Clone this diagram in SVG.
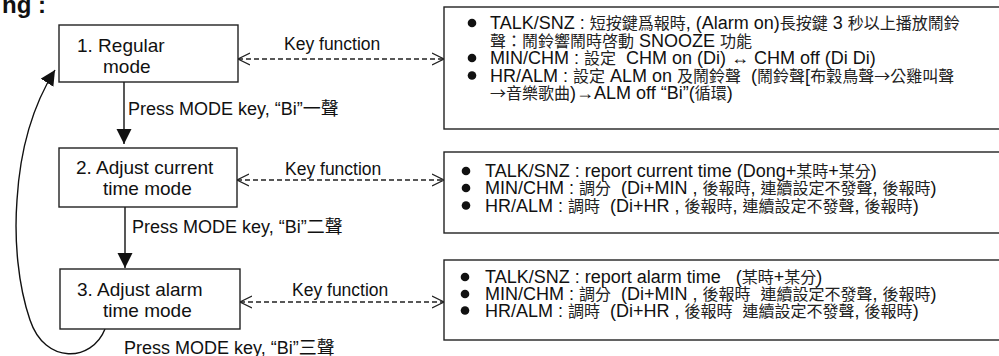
<svg xmlns="http://www.w3.org/2000/svg" width="999" height="356" viewBox="0 0 999 356">
<style>
.bg{fill:#fff}
.box{fill:#fff;stroke:#222;stroke-width:1.4}
.t{font-family:"Liberation Sans","Noto Sans CJK TC",sans-serif;fill:#111;white-space:pre}
.n{font-size:19px}
.l{font-size:18px}
.k{font-size:17.5px}
.r{font-size:18px}
.c{font-family:"Noto Sans CJK TC","Liberation Sans",sans-serif;font-size:16px;fill:#222}
.h{font-family:"Liberation Sans",sans-serif;font-weight:bold;font-size:24px;fill:#111}
.dash{fill:none;stroke:#222;stroke-width:1.3;stroke-dasharray:5 3}
.solid{fill:none;stroke:#111;stroke-width:1.4}
.dot{fill:#111}
</style>
<defs>
<marker id="open" markerWidth="14" markerHeight="14" refX="12" refY="7" orient="auto-start-reverse" markerUnits="userSpaceOnUse">
<path d="M0,1 L12,7 L0,13" fill="none" stroke="#222" stroke-width="1.3"/>
</marker>
<marker id="fill" markerWidth="16" markerHeight="16" refX="15" refY="7.5" orient="auto" markerUnits="userSpaceOnUse">
<path d="M0,0 L15,7.5 L0,15 Z" fill="#111"/>
</marker>
</defs>
<rect class="bg" x="0" y="0" width="999" height="356"/>
<text class="h" x="2" y="13">ng :</text>

<g id="connectors">
<line class="solid" x1="124" y1="82" x2="124" y2="144" marker-end="url(#fill)"/>
<line class="solid" x1="125" y1="207" x2="125" y2="268" marker-end="url(#fill)"/>
<path class="solid" d="M105,329 C92,362 45,365 30,320 C18,285 14,240 17,200 C20,150 33,105 55,70" marker-end="url(#fill)"/>
<line class="dash" x1="238" y1="59" x2="444" y2="59" marker-start="url(#open)" marker-end="url(#open)"/>
<line class="dash" x1="237" y1="180" x2="444" y2="180" marker-start="url(#open)" marker-end="url(#open)"/>
<line class="dash" x1="240" y1="302" x2="444" y2="302" marker-start="url(#open)" marker-end="url(#open)"/>
<text class="t k" x="284" y="50">Key function</text>
<text class="t k" x="285" y="175">Key function</text>
<text class="t k" x="292" y="296">Key function</text>
<text class="t l" x="128" y="115">Press MODE key, “Bi”一聲</text>
<text class="t l" x="132" y="233">Press MODE key, “Bi”二聲</text>
<text class="t l" x="124" y="354">Press MODE key, “Bi”三聲</text>
</g>

<g id="mode1">
<rect class="box" x="59" y="25" width="179" height="57"/>
<text class="t n" x="77" y="52">1. Regular</text>
<text class="t n" x="103" y="73">mode</text>
</g>
<g id="mode2">
<rect class="box" x="59" y="148" width="178" height="59"/>
<text class="t n" x="76" y="174">2. Adjust current</text>
<text class="t n" x="103" y="195">time mode</text>
</g>
<g id="mode3">
<rect class="box" x="60" y="269" width="180" height="60"/>
<text class="t n" x="77" y="296">3. Adjust alarm</text>
<text class="t n" x="103" y="317">time mode</text>
</g>

<g id="keys1">
<rect class="box" x="444" y="7" width="570" height="122"/>
<circle class="dot" cx="472" cy="23" r="4.3"/>
<circle class="dot" cx="472" cy="58" r="4.3"/>
<circle class="dot" cx="472" cy="75.5" r="4.3"/>
<text class="t r" x="490" y="29">TALK/SNZ : <tspan class="c">短按鍵爲報時</tspan>, (Alarm on)<tspan class="c">長按鍵</tspan> 3 <tspan class="c">秒以上播放鬧鈴</tspan></text>
<text class="t r" x="490" y="46.5"><tspan class="c">聲：鬧鈴響鬧時啓動</tspan> SNOOZE <tspan class="c">功能</tspan></text>
<text class="t r" x="490" y="64">MIN/CHM : <tspan class="c">設定</tspan>  CHM on (Di) ↔ CHM off (Di Di)</text>
<text class="t r" x="490" y="81.5">HR/ALM : <tspan class="c">設定</tspan> ALM on <tspan class="c">及鬧鈴聲</tspan>  (<tspan class="c">鬧鈴聲</tspan>[<tspan class="c">布穀鳥聲→公雞叫聲</tspan></text>
<text class="t r" x="490" y="99"><tspan class="c">→音樂歌曲</tspan>)→ALM off “Bi”(<tspan class="c">循環</tspan>)</text>
</g>

<g id="keys2">
<rect class="box" x="444" y="152" width="570" height="81"/>
<circle class="dot" cx="466" cy="171" r="4.3"/>
<circle class="dot" cx="466" cy="188" r="4.3"/>
<circle class="dot" cx="466" cy="205.5" r="4.3"/>
<text class="t r" x="485" y="177">TALK/SNZ : report current time (Dong+<tspan class="c">某時</tspan>+<tspan class="c">某分</tspan>)</text>
<text class="t r" x="485" y="194">MIN/CHM : <tspan class="c">調分</tspan>  (Di+MIN , <tspan class="c">後報時</tspan>, <tspan class="c">連續設定不發聲</tspan>, <tspan class="c">後報時</tspan>)</text>
<text class="t r" x="485" y="211.5">HR/ALM : <tspan class="c">調時</tspan>  (Di+HR , <tspan class="c">後報時</tspan>, <tspan class="c">連續設定不發聲</tspan>, <tspan class="c">後報時</tspan>)</text>
</g>

<g id="keys3">
<rect class="box" x="444" y="260" width="570" height="80"/>
<circle class="dot" cx="465" cy="277" r="4.3"/>
<circle class="dot" cx="465" cy="294" r="4.3"/>
<circle class="dot" cx="465" cy="310.5" r="4.3"/>
<text class="t r" x="485" y="283">TALK/SNZ : report alarm time   (<tspan class="c">某時</tspan>+<tspan class="c">某分</tspan>)</text>
<text class="t r" x="485" y="300">MIN/CHM : <tspan class="c">調分</tspan>  (Di+MIN , <tspan class="c">後報時</tspan>  <tspan class="c">連續設定不發聲</tspan>, <tspan class="c">後報時</tspan>)</text>
<text class="t r" x="485" y="316.5">HR/ALM : <tspan class="c">調時</tspan>  (Di+HR , <tspan class="c">後報時</tspan>  <tspan class="c">連續設定不發聲</tspan>, <tspan class="c">後報時</tspan>)</text>
</g>
</svg>
